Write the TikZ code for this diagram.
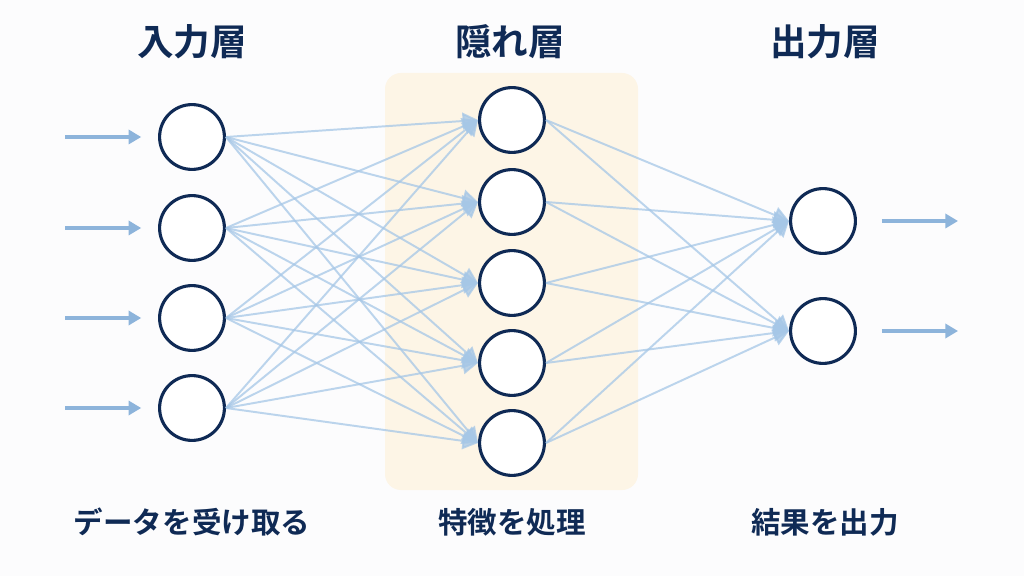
\documentclass[tikz,border=0pt]{standalone}
\usepackage{xcolor}
\usepackage{fontspec}
\setmainfont{Noto Sans CJK JP}[BoldFont={Noto Sans CJK JP Bold}]
\usepackage{tikz}
\usetikzlibrary{positioning,arrows.meta}

\definecolor{navy}{HTML}{0F2A55}
\definecolor{wireblue}{HTML}{A6C7E7}
\definecolor{feedblue}{HTML}{8DB4DB}
\definecolor{cream}{HTML}{FDF5E6}
\definecolor{paper}{HTML}{FCFCFD}

\begin{document}
\begin{tikzpicture}[x=0.025cm, y=-0.025cm,
    neuron/.style={circle, draw=navy, line width=2.2pt, fill=white, minimum size=1.62cm, inner sep=0pt},
    link/.style={draw=wireblue, line width=1.4pt, opacity=0.75,
        -{Triangle[length=11pt, width=12pt]}},
    feed/.style={draw=feedblue, line width=2.2pt, -{Triangle[length=9pt, width=10pt]}},
    title/.style={text=navy, font=\fontsize{26}{30}\selectfont\bfseries},
    caption/.style={text=navy, font=\fontsize{21}{25}\selectfont\bfseries}]

    % canvas and hidden band
    \fill[paper] (0,0) rectangle (1024,576);
    \fill[cream, rounded corners=0.4cm] (385,73) rectangle (638,490);

    % layer titles
    \node (tin) [title] at (192,42) {入力層};
    \node (thid) [title] at (510,42) {隠れ層};
    \node (tout) [title] at (825,42) {出力層};

    % neurons
    \foreach \y [count=\i] in {137,228,318,408}
        \node (in\i) [neuron] at (192,\y) {};
    \foreach \y [count=\i] in {120,202,283,363,443}
        \node (hid\i) [neuron] at (512,\y) {};
    \foreach \y [count=\i] in {221,331}
        \node (out\i) [neuron] at (823,\y) {};

    % weights
    \foreach \i in {1,...,4}
        \foreach \j in {1,...,5}
            \draw [link] (in\i.east) -- (hid\j.west);
    \foreach \j in {1,...,5}
        \foreach \k in {1,2}
            \draw [link] (hid\j.east) -- (out\k.west);

    % inputs and outputs
    \foreach \y [count=\i] in {137,228,318,408} {
        \coordinate (src\i) at (65,\y);
        \draw [feed, shorten >=0.42cm] (src\i) -- (in\i.west);
    }
    \foreach \y [count=\k] in {221,331} {
        \coordinate (dst\k) at (958,\y);
        \draw [feed, shorten <=0.62cm] (out\k.east) -- (dst\k);
    }

    % captions
    \node (cin) [caption] at (192,522) {データを受け取る};
    \node (chid) [caption] at (512,522) {特徴を処理};
    \node (cout) [caption] at (825,522) {結果を出力};
\end{tikzpicture}
\end{document}
